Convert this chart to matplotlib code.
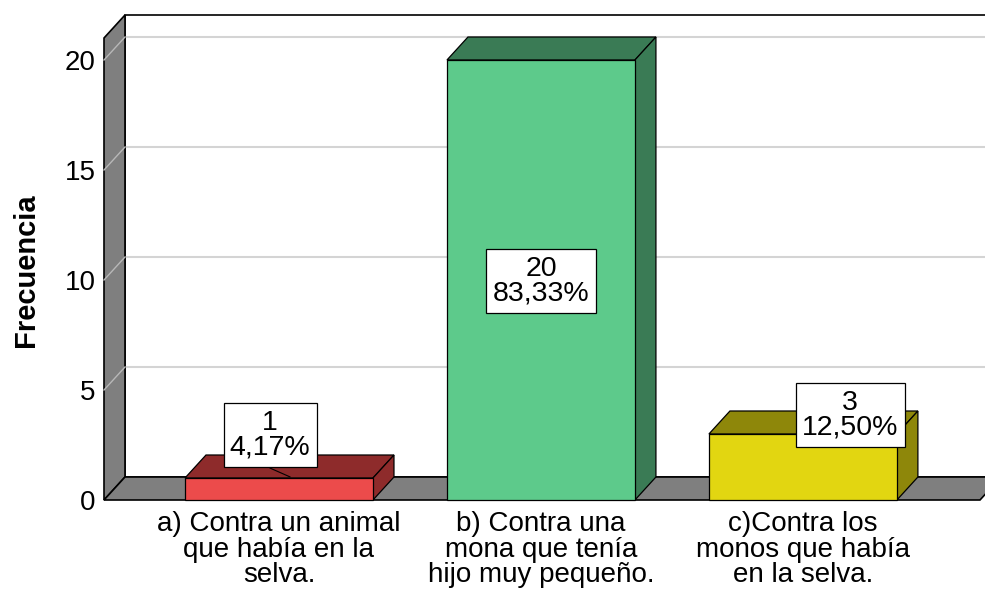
import matplotlib.pyplot as plt
from matplotlib.patches import Polygon

plt.rcParams['font.family'] = ['Liberation Sans', 'DejaVu Sans']

# data
categorias = ['a) Contra un animal\nque había en la\nselva.',
              'b) Contra una\nmona que tenía\nhijo muy pequeño.',
              'c)Contra los\nmonos que había\nen la selva.']
frecuencia = [1, 20, 3]
porcentaje = ['4,17%', '83,33%', '12,50%']

front_cols = ['#EC4B4B', '#5DCA8B', '#E2D611']
dark_cols = ['#8E2B2B', '#3A7B55', '#8E870A']
gray = '#7F7F7F'
grid_col = '#D4D4D4'

# figure geometry (pixels -> data)
fig = plt.figure(figsize=(9.85, 5.92), dpi=100)
ax = fig.add_axes([104/985, 92/592, 876/985, 462/592])
xmin, xmax = -0.668, 2.676
ymax = 21
ax.set_xlim(xmin, xmax)
ax.set_ylim(0, ymax)

# 3d depth offset (data units)
ddx = 21/262
ddy = 23/22
bw = 188/262

def poly(pts, fc, z, ec='black', lw=0.9):
    p = Polygon(pts, closed=True, facecolor=fc, edgecolor=ec, linewidth=lw,
                clip_on=False, zorder=z)
    ax.add_patch(p)

# back wall
poly([(xmin+ddx, ddy), (xmax+ddx, ddy), (xmax+ddx, ymax+ddy), (xmin+ddx, ymax+ddy)],
     'white', 1, lw=1.2)
for t in [5, 10, 15, 20]:
    ax.plot([xmin+ddx, xmax+ddx], [t+ddy, t+ddy], color=grid_col, lw=1.5,
            zorder=1.5, clip_on=False)

# left wall
poly([(xmin, 0), (xmin+ddx, ddy), (xmin+ddx, ymax+ddy), (xmin, ymax)], gray, 2, lw=1.2)
for t in [5, 10, 15, 20]:
    ax.plot([xmin, xmin+ddx], [t, t+ddy], color='#B8B8B8', lw=1.0, zorder=2.5,
            clip_on=False)

# floor
poly([(xmin, 0), (xmax, 0), (xmax+ddx, ddy), (xmin+ddx, ddy)], gray, 3, lw=1.2)

# bars
for i, v in enumerate(frecuencia):
    x0 = i - bw/2
    x1 = i + bw/2
    poly([(x0, v), (x1, v), (x1+ddx, v+ddy), (x0+ddx, v+ddy)], dark_cols[i], 4)
    poly([(x1, 0), (x1+ddx, ddy), (x1+ddx, v+ddy), (x1, v)], dark_cols[i], 4)
    poly([(x0, 0), (x1, 0), (x1, v), (x0, v)], front_cols[i], 4)

# value labels
lab_x = [-0.034, 1.0, 2.18]
lab_y = [2.95, 9.95, 3.86]
ax.plot([lab_x[0], 0.042], [1.45, 1.05], color='black', lw=0.8, zorder=5, clip_on=False)
for i, v in enumerate(frecuencia):
    ax.text(lab_x[i], lab_y[i], f'{v}\n{porcentaje[i]}', ha='center', va='center',
            fontsize=20.5, linespacing=0.95, zorder=6,
            bbox=dict(boxstyle='square,pad=0.22', facecolor='white',
                      edgecolor='black', linewidth=0.9))

# axes / ticks
for s in ax.spines.values():
    s.set_visible(False)
ax.set_yticks([0, 5, 10, 15, 20])
ax.set_xticks(range(len(categorias)))
ax.set_xticklabels(categorias)
ax.tick_params(axis='y', length=0, pad=6, labelsize=20)
ax.tick_params(axis='x', length=0, pad=8, labelsize=20)
for lab in ax.get_xticklabels():
    lab.set_linespacing(0.97)

fig.text(26/985, 1 - 270/592, 'Frecuencia', rotation=90, ha='center', va='center',
         fontsize=21, fontweight='bold')

plt.savefig('out.png', dpi=100)
